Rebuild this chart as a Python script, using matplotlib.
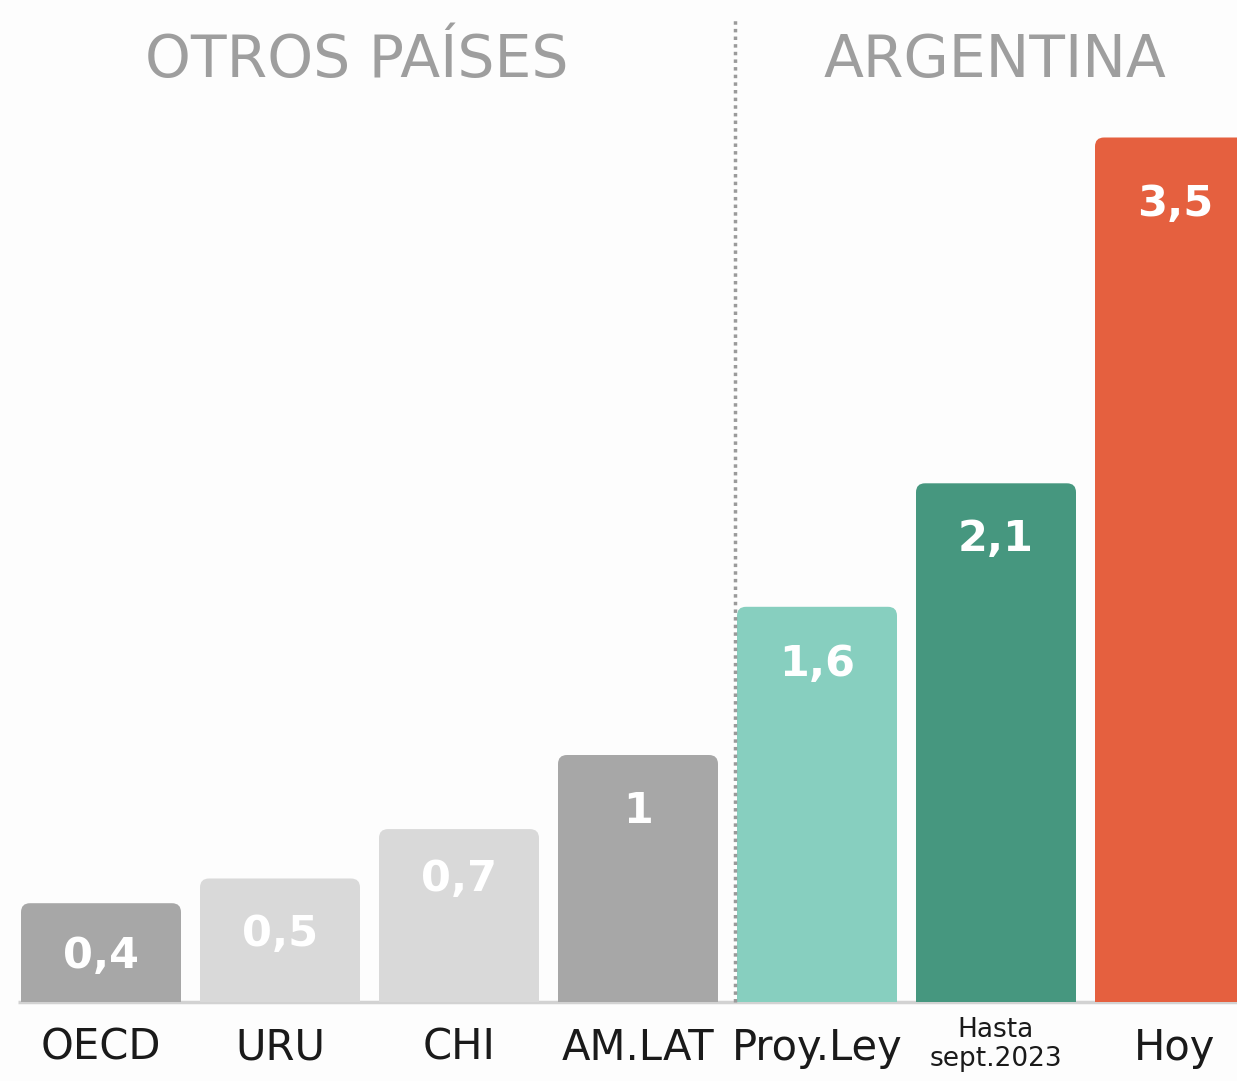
import matplotlib
matplotlib.use("Agg")
import matplotlib.pyplot as plt
from matplotlib.patches import FancyBboxPatch, Rectangle

categories = ["OECD", "URU", "CHI", "AM.LAT", "Proy.Ley", "Hasta\nsept.2023", "Hoy"]
values = [0.4, 0.5, 0.7, 1.0, 1.6, 2.1, 3.5]
value_labels = ["0,4", "0,5", "0,7", "1", "1,6", "2,1", "3,5"]
colors = ["#a7a7a7", "#d9d9d9", "#d9d9d9", "#a7a7a7", "#87cfbf", "#46977f", "#e5603f"]
group_titles = ["OTROS PAÍSES", "ARGENTINA"]

W, H = 1237, 1081
fig = plt.figure(figsize=(W / 100, H / 100), dpi=100)
fig.patch.set_facecolor("#fdfdfd")
ax = fig.add_axes([0, 0, 1, 1])
ax.set_facecolor("#fdfdfd")

step_px = 179.0
x0_px = 101.0
base_px = 79.0
unit_px = 247.0
ax.set_xlim(-x0_px / step_px, (W - x0_px) / step_px)
ax.set_ylim(-base_px / unit_px, (H - base_px) / unit_px)
ax.axis("off")

bw = 160 / step_px
rad_x = 9 / step_px
rad_y = 9 / unit_px
clip = Rectangle((-1, 0), 10, 10, transform=ax.transData)
label_offsets = [-38, -40, -36, -40, -41, -40, -48]
for i, (v, c, lab) in enumerate(zip(values, colors, value_labels)):
    p = FancyBboxPatch((i - bw / 2, -0.2), bw, v + 0.2,
                       boxstyle=f"round,pad=0,rounding_size={rad_x}",
                       mutation_aspect=rad_y / rad_x,
                       facecolor=c, edgecolor="none", zorder=2)
    ax.add_patch(p)
    p.set_clip_path(clip)
    ax.annotate(lab, (i, v), xytext=(0, label_offsets[i]), textcoords="offset points",
                ha="center", va="center", color="white", fontsize=31,
                fontweight="bold", family="DejaVu Sans", zorder=3)

# baseline
ax.plot([(18 - x0_px) / step_px, 7.5], [0, 0], color="#d2d2d2", lw=2.5,
        zorder=1, solid_capstyle="butt")

# separator
sep_x = (735 - x0_px) / step_px
ax.plot([sep_x, sep_x], [0, (H - 20 - base_px) / unit_px], color="#9a9a9a",
        lw=2.5, ls=(0, (1, 1.2)), zorder=4)

# category labels
for i, cat in enumerate(categories):
    if "\n" in cat:
        ax.text(i, -0.06, cat, ha="center", va="top", fontsize=19,
                color="#1a1a1a", linespacing=1.15)
    else:
        ax.text(i, -0.185, cat, ha="center", va="center", fontsize=30,
                color="#1a1a1a")

# group titles
ty = (H - 60 - base_px) / unit_px
ax.text((357 - x0_px) / step_px, ty, group_titles[0], ha="center", va="center",
        fontsize=42, color="#9e9e9e", fontweight="normal")
ax.text((995 - x0_px) / step_px, ty, group_titles[1], ha="center", va="center",
        fontsize=42, color="#9e9e9e", fontweight="normal")

fig.savefig("out.png", dpi=100, facecolor=fig.get_facecolor())
